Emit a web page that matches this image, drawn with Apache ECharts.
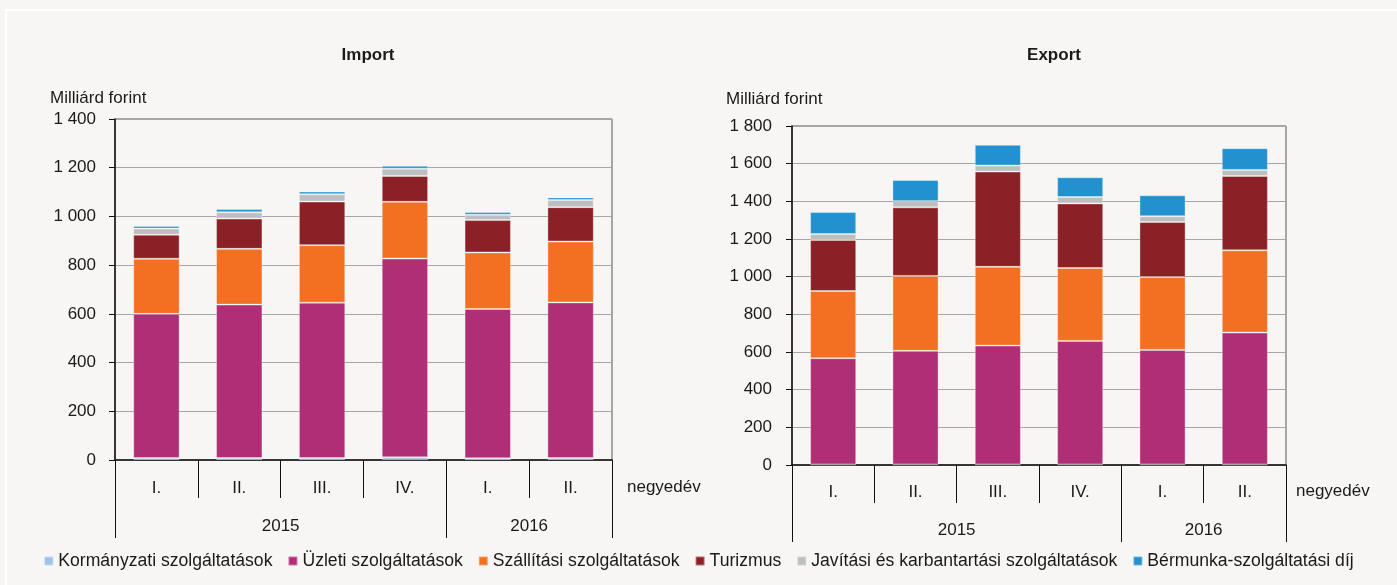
<!DOCTYPE html>
<html>
<head>
<meta charset="utf-8">
<script src="https://cdn.jsdelivr.net/npm/echarts@6/dist/echarts.min.js"></script>
<style>
html,body{margin:0;padding:0;background:#f7f6f4;}
#c{width:1397px;height:585px;}
</style>
</head>
<body>
<div id="c"></div>
<script>
const categories = ['I.', 'II.', 'III.', 'IV.', 'I.', 'II.'];
const yearLabels = ['2015', '2016'];
const seriesNames = ['Kormányzati szolgáltatások', 'Üzleti szolgáltatások', 'Szállítási szolgáltatások', 'Turizmus', 'Javítási és karbantartási szolgáltatások', 'Bérmunka-szolgáltatási díj'];
const seriesColors = ['#9dc3e6', '#b02e76', '#f36f21', '#8b2126', '#bcbec0', '#2191d0'];

// Import (milliárd forint)
const importGov = [8, 8, 8, 11, 7, 8];
const importBusiness = [592, 630, 638, 816, 613, 639];
const importTransport = [226, 229, 236, 233, 232, 250];
const importTourism = [99, 124, 179, 106, 133, 141];
const importRepair = [25, 26, 30, 30, 22, 29];
const importProcessing = [11, 13, 11, 12, 11, 11];

// Export (milliárd forint)
const exportGov = [3, 3, 3, 3, 3, 3];
const exportBusiness = [564, 603, 631, 656, 608, 700];
const exportTransport = [357, 398, 418, 387, 387, 437];
const exportTourism = [271, 364, 506, 343, 292, 395];
const exportRepair = [32, 33, 32, 34, 31, 32];
const exportProcessing = [116, 112, 110, 105, 111, 115];

const importTicks = [0, 1400, 200];
const exportTicks = [0, 1800, 200];

const FONT = 'Liberation Sans, Arial, sans-serif';
const TXT = '#1a1a1a';

const importData = [importGov, importBusiness, importTransport, importTourism, importRepair, importProcessing];
const exportData = [exportGov, exportBusiness, exportTransport, exportTourism, exportRepair, exportProcessing];

function fmt(v) { return String(v).replace(/\B(?=(\d{3})+(?!\d))/g, ' '); }

function catAxis(gridIndex, margin) {
  return {
    type: 'category', gridIndex: gridIndex, data: categories,
    axisLine: { lineStyle: { color: '#111', width: 1.5 } },
    axisTick: { show: true, interval: 0, length: 38, lineStyle: { color: '#111', width: 1 } },
    axisLabel: { interval: 0, margin: margin, fontSize: 17, color: TXT, fontFamily: FONT },
    splitLine: { show: false }
  };
}
function yearAxis(gridIndex, tickLen, margin) {
  return {
    type: 'value', gridIndex: gridIndex, min: 0, max: 6, interval: 1, position: 'bottom',
    axisLine: { show: false },
    axisTick: { show: true, customValues: [0, 4, 6], length: tickLen, lineStyle: { color: '#111', width: 1 } },
    axisLabel: { customValues: [2, 5], margin: margin, fontSize: 17, color: TXT, fontFamily: FONT,
      formatter: function (v) { return v === 2 ? yearLabels[0] : (v === 5 ? yearLabels[1] : ''); } },
    splitLine: { show: false }
  };
}
function valAxis(gridIndex, ticks, margin) {
  return {
    type: 'value', gridIndex: gridIndex, min: ticks[0], max: ticks[1], interval: ticks[2],
    axisLine: { show: true, lineStyle: { color: '#111', width: 1.5 } },
    axisTick: { show: true, length: 6, lineStyle: { color: '#111' } },
    axisLabel: { margin: margin, fontSize: 17, color: TXT, fontFamily: FONT, formatter: fmt },
    splitLine: { show: true, lineStyle: { color: '#a6a6a6', width: 1 } }
  };
}

const series = [];
seriesNames.forEach(function (name, i) {
  series.push({
    name: name, type: 'bar', stack: 'imp', xAxisIndex: 0, yAxisIndex: 0,
    data: importData[i], barWidth: '56%',
    itemStyle: { color: seriesColors[i], borderColor: 'rgba(255,255,255,0.35)', borderWidth: 1 }
  });
});
seriesNames.forEach(function (name, i) {
  series.push({
    name: name, type: 'bar', stack: 'exp', xAxisIndex: 2, yAxisIndex: 1,
    data: exportData[i], barWidth: '56%',
    itemStyle: { color: seriesColors[i], borderColor: 'rgba(255,255,255,0.35)', borderWidth: 1 }
  });
});

const chart = echarts.init(document.getElementById('c'), null, { renderer: 'canvas' });
chart.setOption({
  backgroundColor: '#f7f6f4',
  animation: false,
  textStyle: { fontFamily: FONT },
  title: [
    { text: 'Import', left: 363, top: 42, textAlign: 'center', textStyle: { fontSize: 17, fontWeight: 'bold', color: TXT, fontFamily: FONT } },
    { text: 'Export', left: 1049, top: 42, textAlign: 'center', textStyle: { fontSize: 17, fontWeight: 'bold', color: TXT, fontFamily: FONT } }
  ],
  grid: [
    { left: 115, top: 119, width: 497, height: 341, show: true, borderColor: '#555', borderWidth: 1, backgroundColor: 'transparent', outerBoundsMode: 'none' },
    { left: 792, top: 126, width: 494, height: 339, show: true, borderColor: '#555', borderWidth: 1, backgroundColor: 'transparent', outerBoundsMode: 'none' }
  ],
  xAxis: [catAxis(0, 20), yearAxis(0, 78, 58), catAxis(1, 19), yearAxis(1, 77, 57)],
  yAxis: [valAxis(0, importTicks, 19), valAxis(1, exportTicks, 20)],
  legend: {
    data: seriesNames, left: 'center', top: 547, icon: 'rect', itemWidth: 9, itemHeight: 9, itemGap: 15,
    textStyle: { fontSize: 17.6, color: TXT, fontFamily: FONT }, selectedMode: false
  },
  graphic: [
    { type: 'rect', shape: { x: 6, y: 10, width: 1500, height: 700 }, style: { fill: 'none', stroke: '#ffffff', lineWidth: 2 }, silent: true, z: -1 },
    { type: 'text', left: 50, top: 90, style: { text: 'Milliárd forint', fontSize: 17, fill: TXT, fontFamily: FONT } },
    { type: 'text', left: 726, top: 91, style: { text: 'Milliárd forint', fontSize: 17, fill: TXT, fontFamily: FONT } },
    { type: 'text', left: 627, top: 479, style: { text: 'negyedév', fontSize: 17, fill: TXT, fontFamily: FONT } },
    { type: 'text', left: 1296, top: 483, style: { text: 'negyedév', fontSize: 17, fill: TXT, fontFamily: FONT } }
  ],
  series: series
});
</script>
</body>
</html>
